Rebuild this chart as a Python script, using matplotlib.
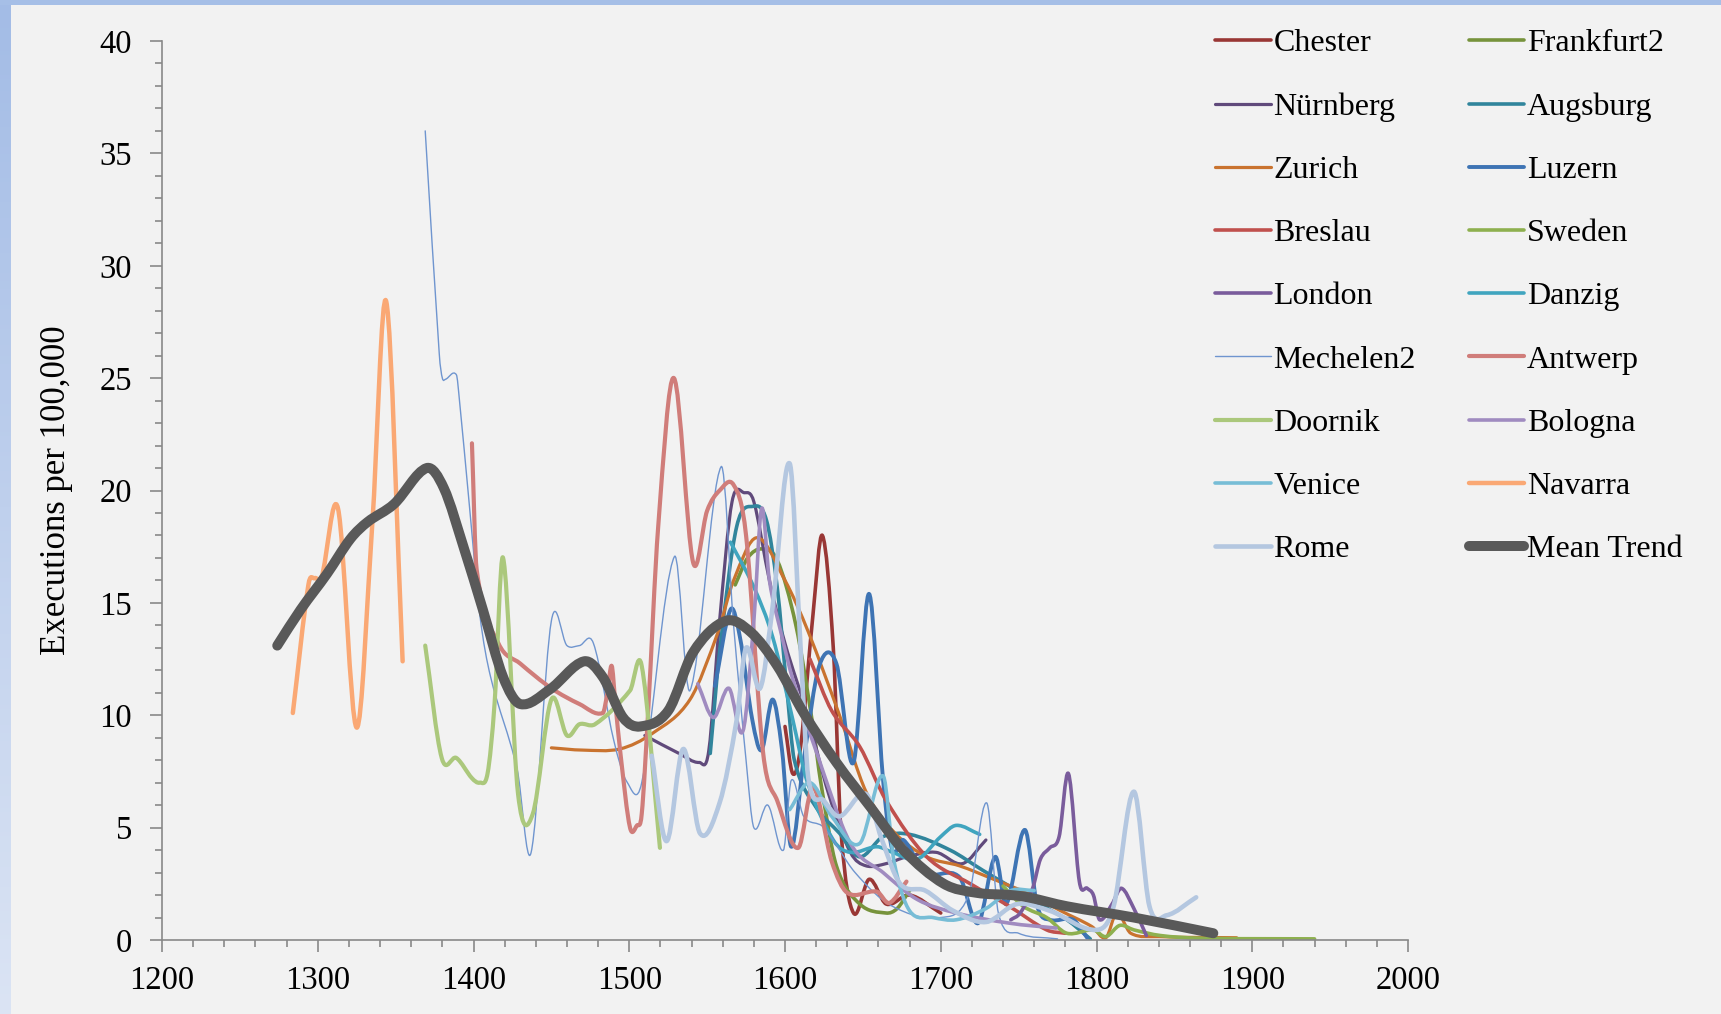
import matplotlib
matplotlib.use("Agg")
import matplotlib.pyplot as plt
import numpy as np
from matplotlib.path import Path
from matplotlib.patches import PathPatch
from matplotlib.lines import Line2D
from matplotlib.ticker import MultipleLocator

# data: (year, executions per 100,000)
chester_x = [1600, 1605, 1610, 1618, 1624, 1631, 1636, 1644, 1654, 1665, 1680, 1700]
chester_y = [9.5, 7.4, 8.6, 14.5, 18.0, 13.0, 4.8, 1.2, 2.7, 1.6, 2.0, 1.2]

frankfurt_x = [1568, 1576, 1585, 1595, 1607, 1618, 1623, 1633, 1648, 1665, 1672, 1680]
frankfurt_y = [15.8, 17.0, 17.4, 16.9, 14.0, 9.5, 7.0, 3.3, 1.6, 1.2, 1.4, 2.2]

nurnberg_x = [1510, 1532, 1545, 1551, 1558, 1566, 1574, 1580, 1590, 1600, 1614, 1628,
              1642, 1652, 1665, 1678, 1697, 1714, 1729]
nurnberg_y = [9.1, 8.3, 7.9, 8.4, 14.2, 19.5, 19.9, 19.5, 16.0, 13.2, 10.1, 6.5,
              3.9, 3.3, 3.4, 3.7, 3.9, 3.4, 4.45]

augsburg_x = [1552, 1558, 1569, 1580, 1588, 1595, 1601, 1606, 1620, 1635, 1648, 1663,
              1680, 1706, 1727, 1744, 1766, 1781, 1796]
augsburg_y = [8.3, 12.8, 18.4, 19.3, 18.7, 15.7, 11.3, 8.0, 5.9, 4.75, 3.7, 4.6,
              4.7, 4.0, 3.1, 2.4, 1.5, 0.9, 0.05]

zurich_x = [1450, 1470, 1494, 1515, 1539, 1557, 1567, 1582, 1600, 1615, 1635, 1652,
            1670, 1691, 1712, 1734, 1755, 1777, 1797, 1806, 1813, 1822, 1840, 1890]
zurich_y = [8.55, 8.45, 8.5, 9.2, 10.7, 13.7, 16.0, 17.9, 16.0, 13.7, 10.0, 6.6,
            4.8, 3.7, 3.3, 2.7, 2.1, 1.3, 0.6, 0.1, 1.2, 0.3, 0.15, 0.1]

luzern_x = [1555, 1565, 1571, 1579, 1585, 1592, 1598, 1604, 1612, 1622, 1633, 1644,
            1654, 1663, 1669, 1676, 1690, 1712, 1724, 1735, 1742, 1754, 1762, 1770,
            1785, 1794]
luzern_y = [11.3, 14.7, 13.5, 9.8, 8.45, 10.7, 8.5, 4.15, 8.0, 12.2, 12.3, 7.9,
            15.4, 7.1, 4.0, 4.45, 3.0, 2.8, 0.75, 3.7, 1.6, 4.9, 1.5, 0.9,
            0.9, 0.1]

breslau_x = [1616, 1630, 1648, 1665, 1691, 1719, 1744, 1768, 1780]
breslau_y = [12.5, 10.2, 8.6, 6.2, 3.7, 2.5, 1.5, 0.45, 0.3]

sweden_x = [1740, 1753, 1768, 1781, 1798, 1806, 1815, 1824, 1841, 1866, 1940]
sweden_y = [2.4, 1.5, 1.0, 0.3, 0.45, 0.15, 0.65, 0.45, 0.2, 0.08, 0.05]

london_x = [1745, 1751, 1759, 1764, 1770, 1776, 1782, 1789, 1794, 1798, 1802, 1810,
            1816, 1824, 1832]
london_y = [0.9, 1.2, 2.3, 3.6, 4.1, 4.6, 7.4, 2.6, 2.3, 2.0, 0.9, 1.6,
            2.3, 1.4, 0.2]

danzig_x = [1565, 1580, 1592, 1605, 1614, 1631, 1642, 1659, 1669, 1685, 1700, 1710, 1725]
danzig_y = [17.7, 15.7, 13.5, 9.8, 7.1, 4.45, 3.9, 4.15, 3.9, 3.6, 4.6, 5.1, 4.7]

mechelen_x = [1369, 1378, 1380, 1382, 1389, 1391, 1397, 1404, 1411, 1428, 1437, 1450,
              1460, 1468, 1477, 1490, 1498.4, 1508, 1529, 1539, 1559, 1567, 1575, 1580,
              1589, 1599, 1604, 1612, 1625, 1645, 1669, 1700, 1718, 1729.5, 1737, 1750,
              1775]
mechelen_y = [36.0, 26.1, 25.0, 24.95, 25.15, 24.0, 19.6, 14.5, 11.7, 7.6, 3.9, 14.2,
              13.1, 13.1, 13.2, 8.9, 7.05, 7.0, 17.06, 11.1, 21.06, 14.0, 8.0, 5.0,
              6.0, 4.0, 7.1, 5.5, 5.0, 3.0, 1.5, 1.0, 2.0, 6.1, 1.2, 0.3,
              0.05]

antwerp_x = [1399, 1402, 1416, 1430, 1450, 1468, 1483, 1486, 1488.7, 1491, 1494.5, 1500.5,
             1505, 1508, 1512, 1518.6, 1528.7, 1541, 1550, 1558, 1567, 1575, 1586, 1595,
             1608.5, 1618, 1630, 1640, 1659, 1667, 1678]
antwerp_y = [22.1, 16.5, 13.2, 12.3, 11.2, 10.5, 10.1, 11.0, 12.2, 10.6, 8.2, 5.0,
             5.1, 5.6, 10.0, 18.4, 25.0, 16.8, 19.1, 20.0, 20.25, 18.0, 8.3, 6.2,
             4.1, 6.8, 3.5, 2.1, 2.15, 1.65, 2.6]

doornik_x = [1369, 1379.6, 1389, 1399, 1404, 1409, 1413.5, 1419, 1428.6, 1438, 1450,
             1460, 1468, 1478, 1500.5, 1508, 1519.7]
doornik_y = [13.1, 8.1, 8.1, 7.2, 7.0, 7.4, 10.5, 17.0, 6.5, 5.6, 10.7,
             9.1, 9.6, 9.6, 11.1, 12.2, 4.1]

bologna_x = [1544, 1554, 1564, 1573, 1580, 1585, 1590, 1597, 1605, 1620, 1642, 1663,
             1685, 1710, 1744, 1774]
bologna_y = [11.4, 9.9, 11.2, 9.3, 14.2, 19.2, 16.0, 13.8, 11.6, 8.4, 4.3, 3.0,
             1.8, 1.2, 0.75, 0.53]

venice_x = [1603, 1616, 1630, 1648, 1663, 1670, 1680, 1695, 1710, 1729, 1745, 1760]
venice_y = [5.8, 7.0, 5.5, 4.3, 7.3, 3.5, 1.3, 1.0, 0.9, 1.4, 2.2, 2.2]

navarra_x = [1284, 1294, 1298, 1302.5, 1313, 1325, 1335, 1344, 1354.5]
navarra_y = [10.1, 15.8, 16.1, 16.15, 19.2, 9.45, 18.5, 28.4, 12.4]

rome_x = [1514.4, 1524, 1534.7, 1545.4, 1558, 1569, 1575, 1584, 1592, 1603, 1610, 1615,
          1625, 1635, 1652, 1662, 1674, 1690, 1708, 1729, 1749, 1770, 1800, 1811,
          1824, 1834, 1845, 1864]
rome_y = [8.2, 4.4, 8.5, 4.75, 6.1, 9.8, 13.0, 11.2, 14.8, 21.2, 13.0, 7.2,
          6.2, 5.5, 6.5, 4.5, 2.5, 2.2, 1.3, 0.8, 1.6, 1.3, 0.45, 1.5,
          6.6, 1.5, 1.1, 1.9]

mean_x = [1274, 1289, 1306, 1321, 1332, 1349, 1370, 1381, 1394, 1406, 1419, 1430,
          1449, 1471, 1483, 1496, 1507, 1525, 1541, 1562, 1578, 1595, 1612, 1633,
          1655, 1676, 1702, 1723, 1745, 1756, 1781, 1824, 1875]
mean_y = [13.1, 14.7, 16.3, 17.85, 18.6, 19.4, 21.0, 20.1, 17.4, 14.7, 11.7, 10.5,
          11.15, 12.4, 11.7, 9.9, 9.5, 10.2, 12.8, 14.2, 13.7, 12.2, 10.1, 7.9,
          5.9, 4.0, 2.5, 2.1, 2.0, 1.9, 1.5, 1.0, 0.3]

# (label, x, y, colour, linewidth) in drawing order
series = [
    ("Chester", chester_x, chester_y, "#993735", 2.6),
    ("Frankfurt2", frankfurt_x, frankfurt_y, "#77933c", 2.6),
    ("Nürnberg", nurnberg_x, nurnberg_y, "#604a7b", 2.3),
    ("Augsburg", augsburg_x, augsburg_y, "#31859c", 2.6),
    ("Zurich", zurich_x, zurich_y, "#c9732f", 2.3),
    ("Luzern", luzern_x, luzern_y, "#3e74b4", 2.8),
    ("Breslau", breslau_x, breslau_y, "#c0504d", 2.6),
    ("Sweden", sweden_x, sweden_y, "#8eb04f", 2.6),
    ("London", london_x, london_y, "#7a5c9c", 2.6),
    ("Danzig", danzig_x, danzig_y, "#40a5bf", 2.6),
    ("Mechelen2", mechelen_x, mechelen_y, "#6f95cf", 1.0),
    ("Antwerp", antwerp_x, antwerp_y, "#d07d7a", 3.0),
    ("Doornik", doornik_x, doornik_y, "#abc87c", 3.0),
    ("Bologna", bologna_x, bologna_y, "#a08bc0", 2.6),
    ("Venice", venice_x, venice_y, "#77bdd6", 2.6),
    ("Navarra", navarra_x, navarra_y, "#faa874", 3.2),
    ("Rome", rome_x, rome_y, "#b4c7e0", 3.3),
    ("Mean Trend", mean_x, mean_y, "#595959", 7.2),
]


def smooth_path(xs, ys):
    # smoothed line: cubic bezier through every point, slopes from neighbours
    x = np.asarray(xs, float)
    y = np.asarray(ys, float)
    m = np.empty(len(x))
    m[1:-1] = (y[2:] - y[:-2]) / (x[2:] - x[:-2])
    m[0] = (y[1] - y[0]) / (x[1] - x[0])
    m[-1] = (y[-1] - y[-2]) / (x[-1] - x[-2])
    verts = [(x[0], y[0])]
    codes = [Path.MOVETO]
    for i in range(len(x) - 1):
        h = (x[i + 1] - x[i]) / 3.0
        verts += [(x[i] + h, y[i] + m[i] * h), (x[i + 1] - h, y[i + 1] - m[i + 1] * h),
                  (x[i + 1], y[i + 1])]
        codes += [Path.CURVE4] * 3
    return Path(verts, codes)


fig = plt.figure(figsize=(17.21, 10.14), dpi=100)
fig.patch.set_facecolor("#f2f2f2")

# blue frame at left and top
band = fig.add_axes([0, 0, 11 / 1721, 1])
grad = np.linspace(0, 1, 256).reshape(-1, 1)
band.imshow(grad, aspect="auto", cmap=matplotlib.colors.LinearSegmentedColormap.from_list(
    "b", ["#a3bce6", "#dbe4f4"]), extent=[0, 1, 0, 1], origin="upper")
band.axis("off")
top = fig.add_axes([0, 1 - 5 / 1014, 1, 5 / 1014])
top.set_facecolor("#a6bfe7")
top.set_xticks([])
top.set_yticks([])
for s in top.spines.values():
    s.set_visible(False)

ax = fig.add_axes([162 / 1721, 1 - 940 / 1014, 1246 / 1721, 899 / 1014])
ax.set_facecolor("#f2f2f2")

handles = {}
for name, xs, ys, col, lw in series:
    ax.add_patch(PathPatch(smooth_path(xs, ys), fill=False, edgecolor=col, lw=lw,
                           capstyle="round", joinstyle="round"))
    handles[name] = Line2D([], [], color=col, lw=lw, solid_capstyle="round")

ax.set_xlim(1200, 2000)
ax.set_ylim(0, 40)
ax.xaxis.set_major_locator(MultipleLocator(100))
ax.xaxis.set_minor_locator(MultipleLocator(20))
ax.yaxis.set_major_locator(MultipleLocator(5))
ax.yaxis.set_minor_locator(MultipleLocator(1))

for side in ["top", "right"]:
    ax.spines[side].set_visible(False)
for side in ["left", "bottom"]:
    ax.spines[side].set_color("#898989")
    ax.spines[side].set_linewidth(1.2)

ax.tick_params(which="major", direction="out", length=8.5, width=1.2, color="#898989",
               labelsize=23.5, labelcolor="black")
ax.tick_params(which="minor", direction="out", length=5, width=1.2, color="#898989")
ax.tick_params(axis="y", which="major", pad=13)
ax.tick_params(axis="x", which="major", pad=10)
for lab in ax.get_xticklabels() + ax.get_yticklabels():
    lab.set_fontname("Liberation Serif")

ax.set_ylabel("Executions per 100,000", fontname="Liberation Serif", fontsize=25)
ax.yaxis.set_label_coords(-0.0718, 0.50)

col1 = ["Chester", "Nürnberg", "Zurich", "Breslau", "London", "Mechelen2", "Doornik",
        "Venice", "Rome"]
col2 = ["Frankfurt2", "Augsburg", "Luzern", "Sweden", "Danzig", "Antwerp", "Bologna",
        "Navarra", "Mean Trend"]
order = col1 + col2
leg = fig.legend([handles[k] for k in order], order, loc="upper left",
                 bbox_to_anchor=(1215 / 1721, 1 - 29 / 1014), ncol=2, frameon=False,
                 prop={"family": "Liberation Serif", "size": 23},
                 handlelength=1.75, handletextpad=0.08, columnspacing=1.65,
                 labelspacing=1.06, borderpad=0, borderaxespad=0)

fig.savefig("out.png", dpi=100, facecolor=fig.get_facecolor())
